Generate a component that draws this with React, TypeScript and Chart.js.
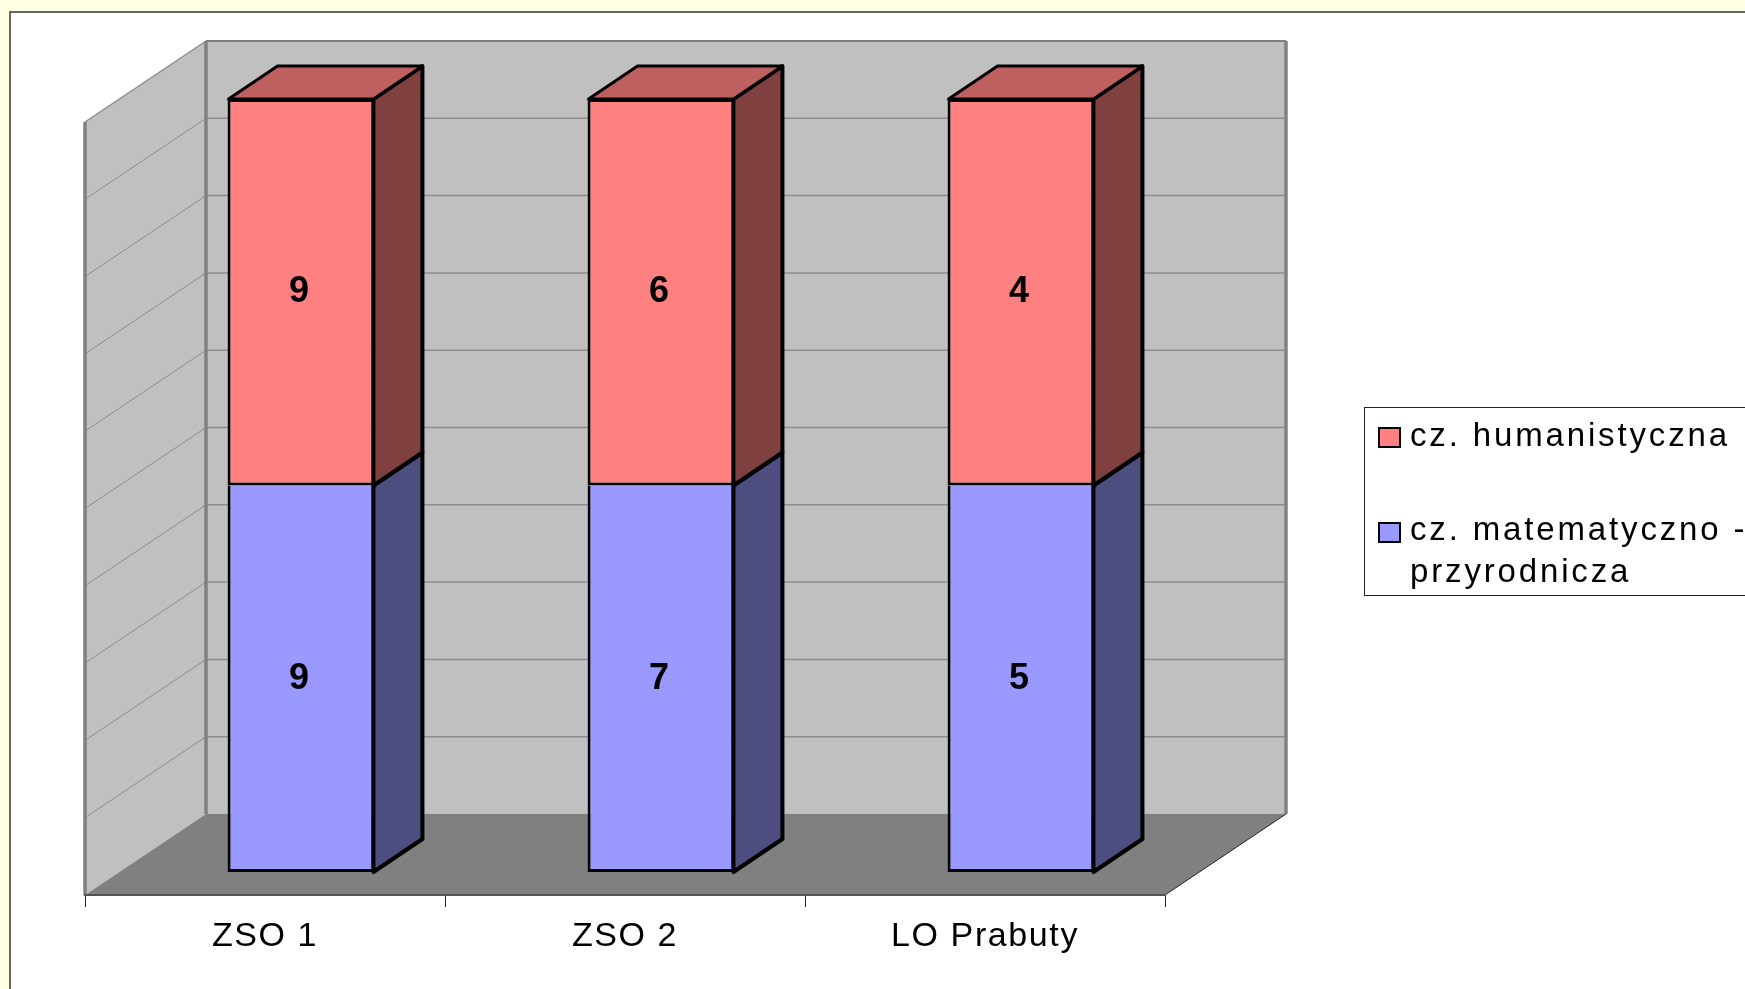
import React, { useEffect, useRef } from "react";
import { Chart, registerables } from "chart.js";

Chart.register(...registerables);

const categories = ["ZSO 1", "ZSO 2", "LO Prabuty"];
const mathShare = [50, 50, 50];
const humanShare = [50, 50, 50];
const mathCounts = [9, 7, 5];
const humanCounts = [9, 6, 4];
const mathLabel = "cz. matematyczno - przyrodnicza";
const humanLabel = "cz. humanistyczna";

const FONT = '"Liberation Sans", Arial, sans-serif';
const WALL = { dx: 121, dy: -81 };
const BAR_OFFSET = { dx: 36, dy: -23 };
const BAR_DEPTH = { dx: 49, dy: -33 };

const faces = [
  { side: "#4D4D80", top: "#737399", counts: mathCounts },
  { side: "#804040", top: "#BF6060", counts: humanCounts },
];

function poly(ctx: CanvasRenderingContext2D, pts: number[][], fill?: string, stroke?: string, lw = 1) {
  ctx.beginPath();
  pts.forEach((p, i) => (i ? ctx.lineTo(p[0], p[1]) : ctx.moveTo(p[0], p[1])));
  ctx.closePath();
  if (fill) {
    ctx.fillStyle = fill;
    ctx.fill();
  }
  if (stroke) {
    ctx.strokeStyle = stroke;
    ctx.lineWidth = lw;
    ctx.stroke();
  }
}

function line(ctx: CanvasRenderingContext2D, a: number[], b: number[], color: string, lw: number) {
  ctx.beginPath();
  ctx.moveTo(a[0], a[1]);
  ctx.lineTo(b[0], b[1]);
  ctx.strokeStyle = color;
  ctx.lineWidth = lw;
  ctx.stroke();
}

const chart3d = {
  id: "chart3d",
  beforeDraw(chart: any) {
    const { ctx, chartArea: a, scales } = chart;
    const y = scales.y;
    const { dx, dy } = WALL;
    ctx.save();
    poly(ctx, [[a.left, a.top], [a.left + dx, a.top + dy], [a.left + dx, a.bottom + dy], [a.left, a.bottom]], "#C0C0C0");
    poly(ctx, [[a.left + dx, a.top + dy], [a.right + dx, a.top + dy], [a.right + dx, a.bottom + dy], [a.left + dx, a.bottom + dy]], "#C0C0C0");
    poly(ctx, [[a.left, a.bottom], [a.left + dx, a.bottom + dy], [a.right + dx, a.bottom + dy], [a.right, a.bottom]], "#808080");
    y.ticks.forEach((t: any) => {
      if (t.value <= 0 || t.value >= 100) return;
      const py = y.getPixelForValue(t.value);
      line(ctx, [a.left, py], [a.left + dx, py + dy], "#8C8C8C", 1);
      line(ctx, [a.left + dx, py + dy], [a.right + dx, py + dy], "#8C8C8C", 1.5);
    });
    line(ctx, [a.left, a.top], [a.left + dx, a.top + dy], "#8C8C8C", 1.5);
    line(ctx, [a.left, a.top], [a.left, a.bottom], "#808080", 3.5);
    line(ctx, [a.left + dx, a.top + dy], [a.left + dx, a.bottom + dy], "#808080", 3.5);
    line(ctx, [a.left + dx, a.top + dy], [a.right + dx, a.top + dy], "#808080", 2);
    line(ctx, [a.right + dx, a.top + dy], [a.right + dx, a.bottom + dy], "#808080", 3.5);
    line(ctx, [a.right, a.bottom], [a.right + dx, a.bottom + dy], "#222222", 1);
    ctx.restore();
    (ctx as any).letterSpacing = "1.6px";
  },
  beforeDatasetsDraw(chart: any) {
    (chart.ctx as any).letterSpacing = "0px";
    chart.ctx.save();
    chart.ctx.translate(BAR_OFFSET.dx, BAR_OFFSET.dy);
  },
  afterDatasetsDraw(chart: any) {
    const { ctx } = chart;
    const { dx, dy } = BAR_DEPTH;
    const last = chart.data.datasets.length - 1;
    ctx.lineJoin = "round";
    chart.data.datasets.forEach((_: any, di: number) => {
      const meta = chart.getDatasetMeta(di);
      meta.data.forEach((bar: any, i: number) => {
        const { x, y, base, width } = bar.getProps(["x", "y", "base", "width"], true);
        const x0 = x - width / 2 + 1;
        const x1 = x + width / 2 - 1;
        poly(ctx, [[x1, y], [x1 + dx, y + dy], [x1 + dx, base + dy], [x1, base]], faces[di].side, "#000000", 4);
        if (di === last) {
          poly(ctx, [[x0, y], [x0 + dx, y + dy], [x1 + dx, y + dy], [x1, y]], faces[di].top, "#000000", 3);
        }
      });
    });
    chart.data.datasets.forEach((_: any, di: number) => {
      chart.getDatasetMeta(di).data.forEach((bar: any, i: number) => {
        const { x, y, base } = bar.getProps(["x", "y", "base"], true);
        ctx.fillStyle = "#000000";
        ctx.font = `bold 36px ${FONT}`;
        ctx.textAlign = "center";
        ctx.textBaseline = "middle";
        ctx.fillText(String(faces[di].counts[i]), x - 2, (y + base) / 2);
      });
    });
    ctx.restore();
  },
  afterDraw(chart: any) {
    const { ctx } = chart;
    const [math, human] = chart.data.datasets;
    ctx.save();
    ctx.fillStyle = "#FFFFFF";
    ctx.strokeStyle = "#222222";
    ctx.lineWidth = 1;
    ctx.fillRect(1364.5, 407.5, 400, 188);
    ctx.strokeRect(1364.5, 407.5, 400, 188);
    const swatch = (top: number, color: string) => {
      ctx.fillStyle = color;
      ctx.fillRect(1379, top, 21, 19);
      ctx.strokeStyle = "#000000";
      ctx.lineWidth = 2;
      ctx.strokeRect(1379, top, 21, 19);
    };
    swatch(428, human.backgroundColor);
    swatch(523, math.backgroundColor);
    ctx.fillStyle = "#000000";
    ctx.font = `33px ${FONT}`;
    ctx.textAlign = "left";
    ctx.textBaseline = "alphabetic";
    (ctx as any).letterSpacing = "2.85px";
    const words = math.label.split(" ");
    ctx.fillText(human.label, 1410, 446);
    ctx.fillText(words.slice(0, 3).join(" "), 1410, 540);
    ctx.fillText(words.slice(3).join(" "), 1410, 582);
    (ctx as any).letterSpacing = "0px";
    ctx.restore();
  },
};

export default function App() {
  const ref = useRef<HTMLCanvasElement>(null);
  useEffect(() => {
    const chart = new Chart(ref.current as HTMLCanvasElement, {
      type: "bar",
      plugins: [chart3d],
      data: {
        labels: categories,
        datasets: [
          {
            label: mathLabel,
            data: mathShare,
            backgroundColor: "#9999FF",
            borderColor: "#000000",
            borderWidth: 3,
            borderSkipped: "top",
            clip: false,
          },
          {
            label: humanLabel,
            data: humanShare,
            backgroundColor: "#FF8080",
            borderColor: "#000000",
            borderWidth: 3,
            borderSkipped: false,
            clip: false,
          },
        ],
      } as any,
      options: {
        animation: false,
        responsive: false,
        maintainAspectRatio: false,
        layout: { padding: { left: 85, right: 580, top: 122, bottom: 0 } },
        datasets: { bar: { barPercentage: 0.408, categoryPercentage: 1 } },
        plugins: { legend: { display: false }, tooltip: { enabled: false }, title: { display: false } },
        scales: {
          x: {
            stacked: true,
            offset: true,
            afterFit: (s: any) => {
              s.height = 94;
            },
            grid: { drawOnChartArea: false, drawTicks: true, tickLength: 12, color: "#222222", lineWidth: 1, offset: true },
            border: { display: true, color: "#555555", width: 2 },
            ticks: { color: "#000000", padding: 9, maxRotation: 0, font: { family: FONT, size: 34 } },
          },
          y: {
            stacked: true,
            min: 0,
            max: 100,
            afterFit: (s: any) => {
              s.width = 0;
            },
            grid: { display: false },
            border: { display: false },
            ticks: { display: false, stepSize: 10 },
          },
        },
      } as any,
    });
    return () => chart.destroy();
  }, []);

  return (
    <div style={{ position: "fixed", left: 0, top: 0, width: 1745, height: 989, background: "#FFFFE3", overflow: "hidden" }}>
      <div style={{ position: "absolute", left: 9, top: 11, width: 1800, height: 1100, background: "#FFFFFF", border: "2px solid #666666" }} />
      <canvas ref={ref} width={1745} height={989} style={{ position: "absolute", left: 0, top: 0, display: "block" }} />
    </div>
  );
}
